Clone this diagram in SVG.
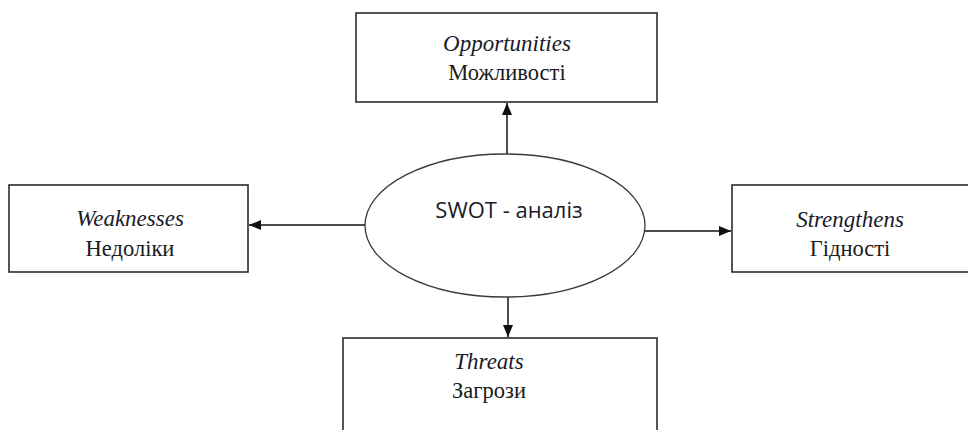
<svg xmlns="http://www.w3.org/2000/svg" width="968" height="430" viewBox="0 0 968 430">
<defs>
<style>
.box{fill:#fff;stroke:#2b2b2b;stroke-width:1.6}
.ell{fill:#fff;stroke:#3a3a3a;stroke-width:1.3}
.en{font-family:"Liberation Serif","Times New Roman",serif;font-style:italic;font-size:23px;fill:#1a1a2a;text-anchor:middle}
.ua{font-family:"Liberation Serif","Times New Roman",serif;font-size:22.5px;fill:#1a1a1a;text-anchor:middle}
.c{font-family:"Open Sans","Liberation Sans",sans-serif;font-size:22px;fill:#1a1a2a;text-anchor:middle}
.con{stroke:#111;stroke-width:1.5;fill:none;marker-end:url(#ah)}
</style>
<marker id="ah" viewBox="0 0 12 10" refX="12" refY="5" markerWidth="12" markerHeight="10" markerUnits="userSpaceOnUse" orient="auto">
<path d="M0,0 L12,5 L0,10 z" fill="#111"/>
</marker>
</defs>
<rect width="968" height="430" fill="#fff"/>
<g id="connectors">
<line class="con" x1="507" y1="155" x2="507" y2="103"/>
<line class="con" x1="366" y1="225" x2="249" y2="225"/>
<line class="con" x1="644" y1="231" x2="731" y2="231"/>
<line class="con" x1="508" y1="297" x2="508" y2="337"/>
</g>
<g id="center">
<ellipse class="ell" cx="505" cy="225.5" rx="140" ry="71.5"/>
<text class="c" x="509" y="218">SWOT - аналіз</text>
</g>
<g id="opportunities">
<rect class="box" x="356" y="13" width="301" height="89"/>
<text class="en" x="507" y="51">Opportunities</text>
<text class="ua" x="507" y="80">Можливості</text>
</g>
<g id="weaknesses">
<rect class="box" x="9" y="185" width="239" height="87"/>
<text class="en" x="130" y="226">Weaknesses</text>
<text class="ua" x="130" y="256">Недоліки</text>
</g>
<g id="strengths">
<rect class="box" x="732" y="185" width="240" height="87"/>
<text class="en" x="850" y="227">Strengthens</text>
<text class="ua" x="850" y="256">Гідності</text>
</g>
<g id="threats">
<rect class="box" x="343" y="338" width="314" height="100"/>
<text class="en" x="489" y="369">Threats</text>
<text class="ua" x="489" y="398">Загрози</text>
</g>
</svg>
